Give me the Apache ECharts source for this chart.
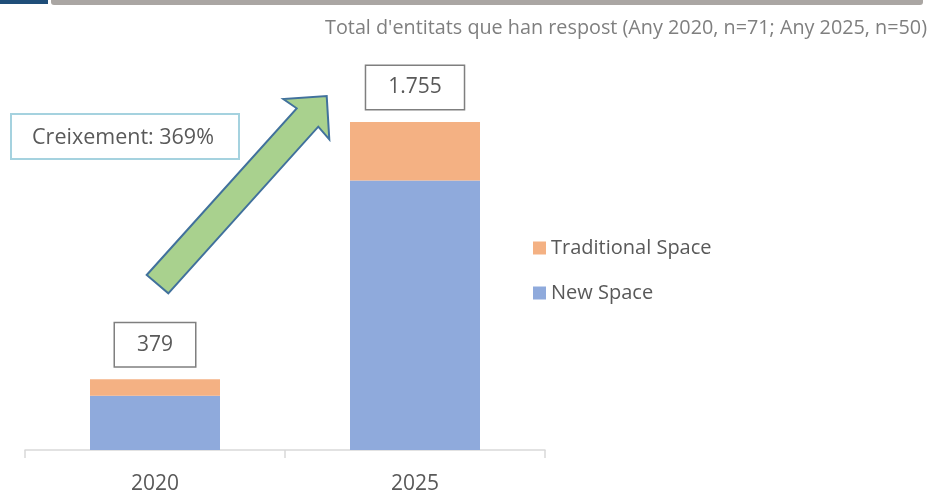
<!DOCTYPE html>
<html>
<head>
<meta charset="utf-8">
<script src="https://cdn.jsdelivr.net/npm/echarts@6/dist/echarts.min.js"></script>
<style>
  html, body { margin: 0; padding: 0; background: #fff; }
  #chart { width: 931px; height: 492px; }
</style>
</head>
<body>
<div id="chart"></div>
<script>
// dades llegides del gràfic
var years = ['2020', '2025'];
var newSpace = [290, 1442];
var traditionalSpace = [89, 313];
var totals = [379, 1755];

var font = 'Open Sans';

function fmtNum(v) {
    // separador de milers amb punt
    return String(v).replace(/\B(?=(\d{3})+(?!\d))/g, '.');
}

var chart = echarts.init(document.getElementById('chart'));
var option = {
    animation: false,
    textStyle: { fontFamily: font },
    grid: {
        left: 25,
        right: 386,
        top: 122,
        bottom: 42,
        outerBoundsMode: 'none'
    },
    legend: {
        data: ['Traditional Space', 'New Space'],
        orient: 'vertical',
        left: 528,
        top: 233,
        itemWidth: 13,
        itemHeight: 13,
        itemGap: 25,
        icon: 'rect',
        textStyle: { fontSize: 20, color: '#595959', fontFamily: font }
    },
    graphic: [
        // barres de capçalera
        { type: 'rect', shape: { x: 0, y: 0, width: 48, height: 4 }, style: { fill: '#1f4e79' } },
        { type: 'rect', shape: { x: 51, y: 0, width: 872, height: 5, r: [0, 0, 3, 3] }, style: { fill: '#aaa6a3' } },
        {
            type: 'text', x: 927, y: 28,
            style: {
                text: "Total d'entitats que han respost (Any 2020, n=71; Any 2025, n=50)",
                fill: '#7f7f7f', font: '19.8px "Open Sans"', align: 'right', verticalAlign: 'middle'
            }
        },
        // fletxa
        {
            type: 'polygon',
            shape: {
                points: [[146.7, 275], [296.7, 108.3], [283.3, 99], [326.7, 96],
                         [329.3, 139.3], [318.3, 126.7], [168.3, 293.3]]
            },
            style: { fill: '#a9d18e', stroke: '#41719c', lineWidth: 2 }
        },
        {
            type: 'rect',
            shape: { x: 11, y: 114, width: 228, height: 45 },
            style: { fill: '#fff', stroke: '#a5d2df', lineWidth: 2 }
        },
        {
            type: 'text', x: 123, y: 137.5,
            style: {
                text: 'Creixement: 369%', fill: '#595959',
                font: '21.5px "Open Sans"', align: 'center', verticalAlign: 'middle'
            }
        }
    ],
    xAxis: {
        type: 'category',
        data: years,
        axisLine: { lineStyle: { color: '#d9d9d9', width: 1.5 } },
        axisTick: { show: true, length: 8, lineStyle: { color: '#d9d9d9', width: 1.5 } },
        axisLabel: { fontSize: 21, color: '#595959', margin: 24 }
    },
    yAxis: {
        type: 'value',
        min: 0,
        max: 1755,
        show: false,
        splitLine: { show: false }
    },
    series: [
        {
            name: 'New Space',
            type: 'bar',
            stack: 'total',
            barWidth: '50%',
            itemStyle: { color: '#8faadc' },
            data: newSpace
        },
        {
            name: 'Traditional Space',
            type: 'bar',
            stack: 'total',
            barWidth: '50%',
            itemStyle: { color: '#f4b183' },
            label: {
                show: true,
                position: 'top',
                distance: 13,
                formatter: function (p) { return fmtNum(totals[p.dataIndex]); },
                fontSize: 21,
                lineHeight: 25,
                color: '#595959',
                backgroundColor: '#fff',
                borderColor: '#7f7f7f',
                borderWidth: 1.5,
                padding: [9, 22]
            },
            data: traditionalSpace
        }
    ]
};
chart.setOption(option);
</script>
</body>
</html>
